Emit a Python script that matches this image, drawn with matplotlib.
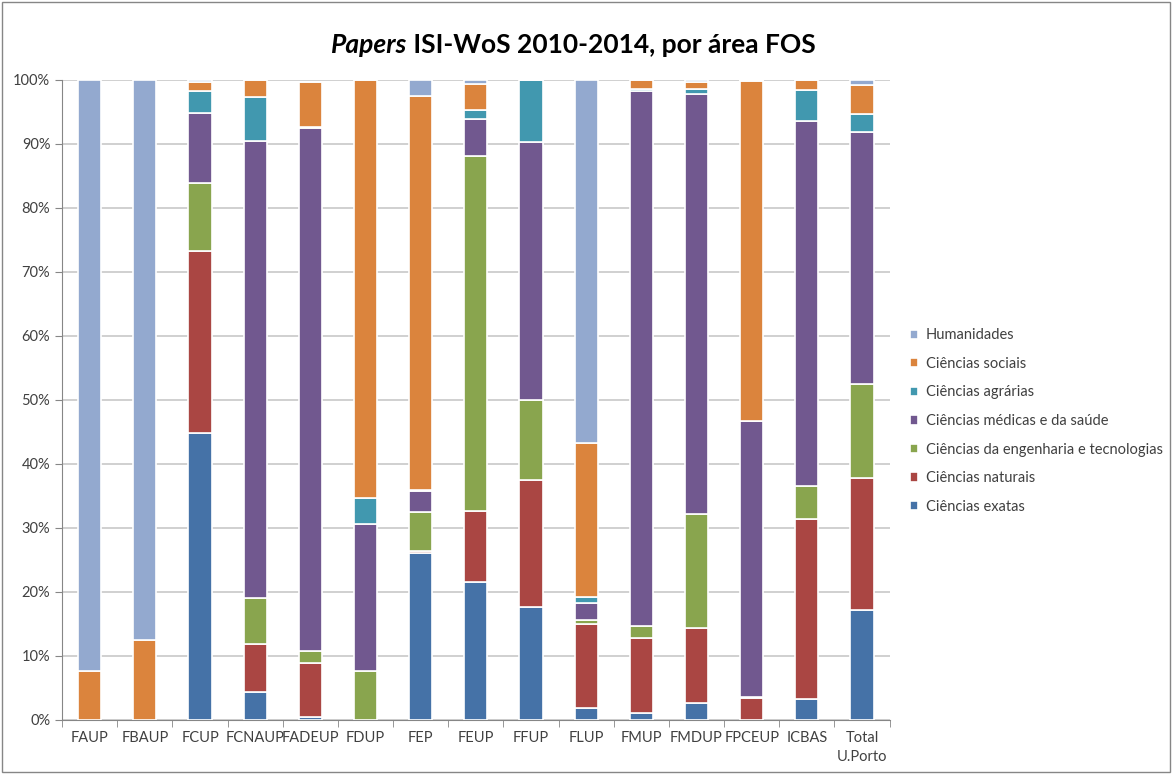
import matplotlib
matplotlib.use("Agg")
import matplotlib.pyplot as plt
import numpy as np

plt.rcParams["font.family"] = ["Lato", "DejaVu Sans"]

units = ["FAUP", "FBAUP", "FCUP", "FCNAUP", "FADEUP", "FDUP", "FEP", "FEUP",
         "FFUP", "FLUP", "FMUP", "FMDUP", "FPCEUP", "ICBAS", "Total\nU.Porto"]

# percentagens por area FOS
exatas      = [0, 0, 44.8, 4.4, 0.5, 0, 26.0, 21.6, 17.6, 1.8, 1.1, 2.6, 0, 3.3, 17.2]
naturais    = [0, 0, 28.4, 7.5, 8.3, 0, 0.4, 11.1, 19.8, 13.2, 11.7, 11.7, 3.4, 28.0, 20.6]
engenharia  = [0, 0, 10.6, 7.2, 1.9, 7.6, 6.1, 55.4, 12.6, 0.6, 1.8, 17.8, 0.2, 5.2, 14.6]
medicas     = [0, 0, 11.0, 71.4, 81.7, 23.0, 3.2, 5.8, 40.3, 2.6, 83.6, 65.6, 43.1, 57.1, 39.5]
agrarias    = [0, 0, 3.4, 6.8, 0.2, 4.0, 0.2, 1.4, 9.6, 1.0, 0.4, 0.8, 0, 4.8, 2.7]
sociais     = [7.6, 12.5, 1.4, 2.7, 7.1, 65.4, 61.5, 4.0, 0.1, 24.1, 1.3, 1.2, 53.1, 1.6, 4.5]
humanidades = [92.4, 87.5, 0.4, 0, 0, 0, 2.6, 0.7, 0, 56.7, 0.1, 0.3, 0.2, 0, 0.9]

series = [
    ("Ciências exatas", exatas, "#4572A7"),
    ("Ciências naturais", naturais, "#AA4643"),
    ("Ciências da engenharia e tecnologias", engenharia, "#89A54E"),
    ("Ciências médicas e da saúde", medicas, "#71588F"),
    ("Ciências agrárias", agrarias, "#4198AF"),
    ("Ciências sociais", sociais, "#DB843D"),
    ("Humanidades", humanidades, "#93A9CF"),
]

fig = plt.figure(figsize=(11.72, 7.74), dpi=100)
ax = fig.add_axes([0.053, 0.07, 0.706, 0.827])

x = np.arange(len(units))
bottom = np.zeros(len(units))
for label, values, color in series:
    values = np.array(values, dtype=float)
    ax.bar(x, values, 0.42, bottom=bottom, color=color, edgecolor="white",
           linewidth=1.2, label=label, zorder=3)
    bottom += values

ax.set_xlim(-0.5, len(units) - 0.5)
ax.set_ylim(0, 100)
ax.set_yticks(np.arange(0, 101, 10))
ax.set_yticklabels([f"{v}%" for v in range(0, 101, 10)], fontsize=10.5, color="#404040")
ax.set_xticks(x)
ax.set_xticklabels(units, fontsize=10.5, color="#404040", linespacing=1.5)
ax.set_xticks(np.arange(-0.5, len(units), 1), minor=True)
ax.tick_params(axis="x", which="major", length=0, pad=8)
ax.tick_params(axis="x", which="minor", length=5, color="#868686")
ax.tick_params(axis="y", length=5, color="#868686", direction="out")
ax.grid(axis="y", color="#c8c8c8", linewidth=1.2, zorder=0)
for side in ["top", "right"]:
    ax.spines[side].set_visible(False)
ax.spines["left"].set_color("#868686")
ax.spines["bottom"].set_color("#868686")

# titulo: "Papers" em italico, resto normal
fig.text(0.3475, 0.942, "Papers", fontsize=19, fontweight="bold",
         fontstyle="italic", ha="right", va="center", color="#000000")
fig.text(0.3475, 0.942, " ISI-WoS 2010-2014, por área FOS", fontsize=19,
         fontweight="bold", ha="left", va="center", color="#000000")

handles, labels = ax.get_legend_handles_labels()
leg = fig.legend(handles[::-1], labels[::-1], loc="center left",
                 bbox_to_anchor=(0.765, 0.456), frameon=False, fontsize=10.5,
                 handlelength=0.6, handleheight=0.6, handletextpad=0.5,
                 labelspacing=1.0)
for t in leg.get_texts():
    t.set_color("#404040")

border = plt.Rectangle((0.002, 0.002), 0.996, 0.996, transform=fig.transFigure,
                       fill=False, edgecolor="#868686", linewidth=1)
fig.patches.append(border)

fig.savefig("out.png", dpi=100)
